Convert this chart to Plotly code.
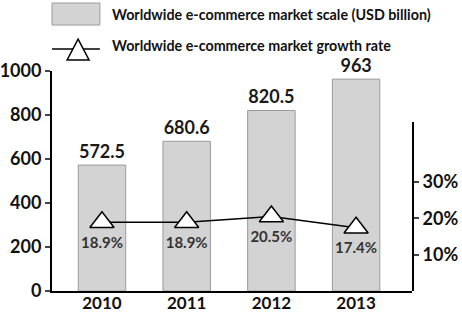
import plotly.graph_objects as go

years = ["2010", "2011", "2012", "2013"]
scale = [572.5, 680.6, 820.5, 963]
growth = [0.189, 0.189, 0.205, 0.174]
growth_labels = ["18.9%", "18.9%", "20.5%", "17.4%"]
left_ticks = [0, 200, 400, 600, 800, 1000]
right_ticks = [0.1, 0.2, 0.3]
between_ticks = [0.5, 1.5, 2.5]
legend_names = ["Worldwide e-commerce market scale (USD billion)",
                "Worldwide e-commerce market growth rate"]

FONT = "Lato"
XR = [-0.59, 3.66]

fig = go.Figure()
fig.add_trace(go.Bar(
    x=years, y=scale, text=[f"{v:g}" for v in scale], textposition="outside",
    cliponaxis=False, width=0.56, constraintext="none",
    marker=dict(color="#d3d3d3", line=dict(color="#9a9a9a", width=1)),
    textfont=dict(family=FONT, size=18, color="#1a1a1a", weight="bold"),
    xaxis="x", yaxis="y", showlegend=False))
fig.add_trace(go.Scatter(
    x=years, y=growth, mode="lines+markers+text", text=growth_labels,
    textposition="bottom center", cliponaxis=False,
    line=dict(color="black", width=1.5),
    marker=dict(symbol="triangle-up", size=21, color="white",
                line=dict(color="black", width=1.5)),
    textfont=dict(family=FONT, size=15, color="#333333", weight="bold"),
    xaxis="x", yaxis="y2", showlegend=False))

axfont = dict(family=FONT, size=18, color="#111111", weight="bold")
fig.update_layout(
    width=462, height=317,
    margin=dict(l=52, r=50, t=71, b=26),
    paper_bgcolor="white", plot_bgcolor="rgba(0,0,0,0)",
    xaxis=dict(type="category", range=XR, showline=True, linecolor="black",
               linewidth=2, ticks="", tickfont=dict(axfont, size=17),
               ticklabelstandoff=-4, showgrid=False,
               zeroline=False, anchor="y", automargin=False),
    xaxis2=dict(overlaying="x", range=XR, tickvals=between_ticks, ticks="inside",
                ticklen=8, tickwidth=1.5, tickcolor="black",
                showticklabels=False, showline=False, showgrid=False,
                zeroline=False, anchor="y", side="bottom", automargin=False),
    yaxis=dict(range=[0, 1000], tickvals=left_ticks, ticks="outside", ticklen=5,
               tickwidth=1.5, showline=True, linecolor="black", linewidth=2,
               showgrid=False, zeroline=False, tickfont=axfont, automargin=False),
    yaxis2=dict(domain=[0, 0.768], range=[0, 0.465], tickvals=right_ticks,
                tickformat=".0%", side="right", anchor="x", ticks="outside",
                ticklen=5, tickwidth=1.5, showline=True, linecolor="black",
                linewidth=2, showgrid=False, zeroline=False, tickfont=axfont,
                automargin=False),
)

# manual legend
fig.add_shape(type="rect", xref="paper", yref="paper", x0=0.0, x1=0.133,
              y0=1.209, y1=1.309, fillcolor="#d3d3d3",
              line=dict(color="#9a9a9a", width=1))
fig.add_shape(type="line", xref="paper", yref="paper", x0=0.0, x1=0.133,
              y0=1.10, y1=1.10, line=dict(color="black", width=1.5))
fig.add_shape(type="path", xref="paper", yref="paper",
              path="M 0.042 1.05 L 0.103 1.05 L 0.0725 1.145 Z",
              fillcolor="white", line=dict(color="black", width=1.5))
for name, yy in zip(legend_names, [1.259, 1.114]):
    fig.add_annotation(text=name, xref="paper", yref="paper", x=0.161, y=yy,
                       xanchor="left", yanchor="middle", showarrow=False,
                       font=dict(family=FONT, size=14.3, color="#111111",
                                 weight="bold"))

fig.write_html("out.html")
